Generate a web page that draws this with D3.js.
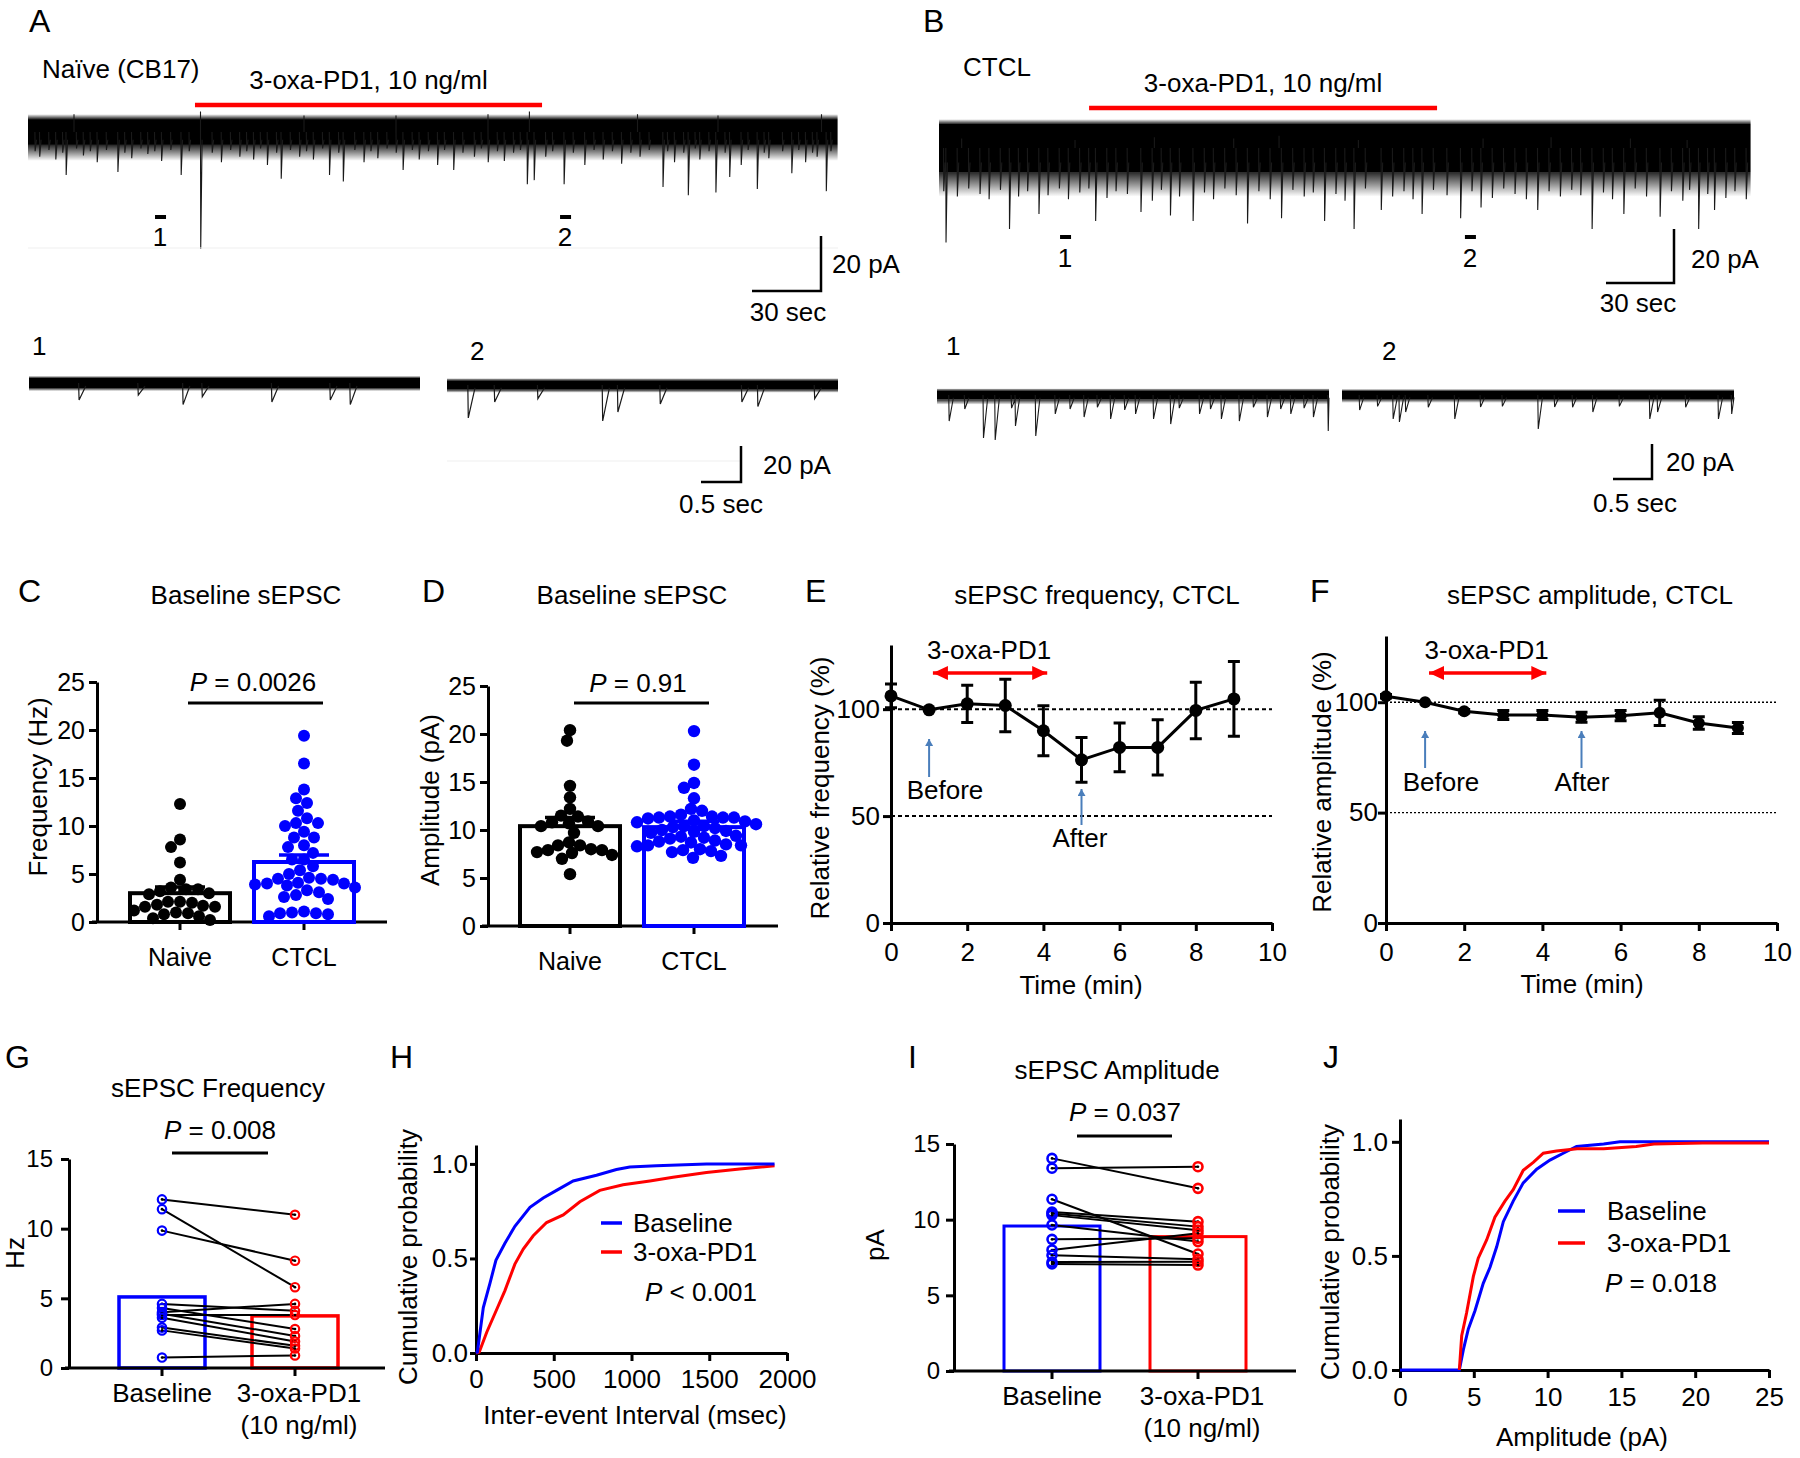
<!DOCTYPE html>
<html>
<head>
<meta charset="utf-8">
<script src="https://cdn.jsdelivr.net/npm/d3@7"></script>
<style>
  body { margin: 0; background: #fff; }
  svg text { font-family: "Liberation Sans", Arial, sans-serif; fill: #000; }
</style>
</head>
<body>
<div id="fig"></div>
<script>
// ---------------- data ----------------

// A / B: long recordings, events as [time (s), amplitude (pA)]
var aLongDur = 352, bLongDur = 358;
var aDrug = [72.6, 223.5], bDrug = [66.2, 219.7];
var aMarks = [57.4, 233.5], bMarks = [55.6, 234.2];

var aLongEvents = [
  [16.5, 15.6], [39, 14.5], [66.5, 15.6], [75, 42.5], [110, 17], [131, 15.6], [137, 18],
  [163, 13.8], [185, 13.8], [217, 19], [220, 17.5], [233, 19], [276, 20], [287, 23],
  [299, 22], [305, 16.4], [317, 20.7], [332, 15], [347, 21.5],
  [5, 9], [12, 10], [24, 8.5], [30, 11], [45, 9.5], [52, 8], [58, 10.5], [84, 11], [92, 9],
  [98, 10], [104, 12], [118, 9], [124, 10], [146, 11], [152, 9.5], [170, 10], [178, 12],
  [194, 9], [200, 11], [207, 10.5], [225, 9], [242, 12], [250, 10], [258, 11.5], [266, 9],
  [281, 11], [292, 10], [310, 12], [322, 9.5], [338, 11], [343, 9],
  [3, 7], [9, 6.5], [15, 7.5], [21, 6], [27, 7], [34, 6.5], [42, 7.5], [49, 6], [55, 7],
  [62, 6.5], [70, 7], [80, 7.5], [88, 6.5], [95, 7], [101, 6], [108, 7.5], [114, 6.5],
  [121, 7], [128, 6], [135, 7.5], [142, 6.5], [149, 7], [156, 6], [160, 7.5], [167, 6.5],
  [174, 7], [181, 6.5], [189, 7.5], [197, 6], [204, 7], [211, 7.5], [214, 6.5], [228, 7],
  [237, 7.5], [246, 6.5], [254, 7], [262, 7.5], [270, 6.5], [278, 7], [285, 7.5], [290, 6],
  [296, 7], [303, 7.5], [313, 6.5], [320, 7.5], [328, 7], [335, 6.5], [341, 7.5], [349, 7]
];
var aLongUps = [
  [20, 6.5], [75, 7.5], [120, 6], [160, 6], [200, 6.5], [218, 7.5], [265, 6.5], [300, 6], [345, 6.5]
];

var bLongEvents = [
  [3, 35], [31, 30], [44, 24.4], [69, 27], [89, 23.7], [102, 25], [112, 27], [136, 28],
  [151, 26], [170, 27], [183, 30], [195, 23], [213, 24.4], [230, 26], [239, 22], [264, 23],
  [288, 30], [302, 24.4], [318, 25.5], [335, 30], [342, 23], [356, 19],
  [2, 16], [8, 18], [13, 15], [18, 17], [22, 19], [27, 15.5], [35, 18], [39, 16], [48, 17.5],
  [53, 15], [57, 19], [62, 16.5], [66, 15], [74, 18.5], [78, 16], [83, 17], [94, 19.5],
  [98, 15.5], [106, 18], [117, 16.5], [121, 19], [126, 15], [131, 17.5], [141, 16],
  [146, 19], [156, 15.5], [161, 18], [165, 16.5], [175, 17], [179, 19.5], [188, 15],
  [200, 18], [205, 16], [209, 19], [218, 15.5], [224, 17.5], [235, 16], [244, 18.5],
  [249, 15], [254, 17], [259, 19], [269, 16], [274, 18], [279, 15.5], [283, 17.5],
  [293, 16.5], [297, 19], [307, 15], [312, 18], [323, 16], [328, 19.5], [331, 15.5],
  [339, 17], [347, 18.5], [351, 16]
];
var bLongUps = [
  [10, 3.5], [60, 3], [95, 4], [130, 3.5], [150, 4.5], [185, 3], [240, 3.5], [270, 4], [305, 3.5], [330, 3]
];

// A / B: expanded sweeps (1, 2)
var a1Events = [[0.62, 9.4], [1.36, 6.7], [1.92, 12], [2.16, 7.6], [3.03, 10.5], [3.76, 9.4], [4.01, 12]];
var a2Events = [[0.26, 18.3], [0.59, 9.4], [1.13, 7.6], [1.94, 20], [2.13, 15], [2.66, 10.5], [3.68, 9.4], [3.88, 12], [4.59, 7.6]];
var b1Events = [
  [0.15, 14.9], [0.59, 24.6], [0.74, 25.7], [1.0, 17.7], [1.26, 23.4], [1.51, 10.8], [1.88, 12.6],
  [2.22, 13.7], [2.54, 10.8], [2.77, 13.7], [2.99, 16.6], [3.36, 10.8], [3.64, 13.7], [3.87, 14.9],
  [4.23, 12.6], [4.53, 10.8], [4.82, 12.6], [5.01, 20.6],
  [0.35, 8], [0.95, 7.5], [1.7, 8], [2.05, 7], [2.4, 8.5], [3.1, 7.5], [3.5, 8], [4.05, 7], [4.4, 8], [4.7, 7.5]
];
var b2Events = [
  [0.22, 8.6], [0.65, 13.7], [0.73, 15.4], [0.81, 9.7], [1.44, 13.7], [1.77, 6.9], [2.51, 19.4],
  [2.72, 6.9], [3.21, 9.7], [3.94, 13.7], [4.04, 9.7], [4.82, 13.7], [4.99, 10.8],
  [0.45, 6.5], [1.1, 7], [2.05, 6.5], [2.95, 7], [3.55, 6.5], [4.4, 7]
];

// C / D: baseline sEPSC per cell
var groups = ["Naive", "CTCL"];
var groupColors = ["#000000", "#0000ff"];
var cNaive = [12.3, 8.6, 7.8, 6.2, 4.4, 3.6, 3.4, 3.4, 3.2, 3.0, 2.9, 2.1, 2.1, 2.0, 1.8, 1.7, 1.6, 1.6, 1.2, 1.0, 0.9, 0.8, 0.6, 0.4, 0.2];
var cCtcl = [19.4, 16.5, 13.8, 12.9, 12.4, 11.6, 10.8, 10.3, 10.3, 10.0, 9.4, 8.8, 8.8, 8.0, 7.8, 7.2, 6.5, 6.5,
  5.8, 5.4, 5.0, 4.6, 4.5, 4.5, 4.4, 4.1, 4.0, 4.0, 3.9, 3.8, 3.6, 3.3, 3.1, 2.8, 2.6, 2.4, 1.1, 1.0, 0.9, 0.9, 0.8, 0.6];
var cMeans = [3.0, 6.25], cSem = [0.65, 0.73];
var dNaive = [20.4, 19.3, 14.6, 13.4, 12.2, 11.5, 11.4, 10.9, 10.8, 10.7, 10.4, 10.4, 9.7, 8.7, 8.4, 8.4, 8.0, 7.9, 7.9, 7.7, 7.6, 7.4, 7.0, 5.4];
var dCtcl = [20.3, 16.8, 14.9, 14.4, 13.3, 12.2, 12.0, 11.6, 11.4, 11.4, 11.3, 11.3, 11.3, 11.2, 11.0, 10.9, 10.8, 10.6,
  10.4, 10.4, 10.3, 10.2, 10.0, 9.9, 9.8, 9.7, 9.4, 9.3, 9.2, 9.1, 8.9, 8.8, 8.7, 8.5, 8.4, 8.4, 8.3, 8.0, 7.9, 7.8, 7.7, 7.3, 7.1];
var dMeans = [10.4, 10.3], dSem = [0.9, 0.6];

// E / F: time course (min), relative values (%)
var timeMin = [0, 1, 2, 3, 4, 5, 6, 7, 8, 9];
var eMean = [106.2, 99.7, 102.5, 101.7, 89.9, 76.3, 82.1, 82.1, 99.4, 104.8];
var eSem = [5.6, 0, 8.7, 12.3, 11.7, 10.5, 11.4, 12.9, 13.2, 17.5];
var fMean = [102.7, 100, 95.9, 94.2, 94.2, 93.2, 93.9, 95.2, 90.6, 88.3];
var fSem = [0.8, 0, 0.8, 2.0, 2.0, 2.3, 2.3, 5.7, 2.8, 2.5];
var drugWindow = [1.1, 4.1];

// G / I: paired cells
var pairCats = ["Baseline", "3-oxa-PD1"];
var pairColors = ["#0000ff", "#ff0000"];
var gBase = [12.1, 11.4, 9.86, 4.6, 4.3, 4.0, 3.9, 3.8, 3.6, 2.9, 2.7, 0.75];
var gDrug = [11.0, 5.8, 7.7, 4.1, 2.8, 4.6, 2.3, 3.8, 1.9, 1.6, 1.4, 0.9];
var gMeans = [5.1, 3.74];
var iBase = [14.05, 13.4, 11.35, 10.5, 10.4, 10.3, 9.65, 8.7, 8.0, 7.65, 7.2, 7.07];
var iDrug = [12.07, 13.5, 7.73, 9.87, 9.54, 9.3, 8.55, 8.77, 9.1, 7.38, 7.22, 7.0];
var iMeans = [9.58, 8.88];

// H / J: cumulative distributions
var hBaseMs = [0, 9, 47, 90, 128, 186, 250, 347, 432, 518, 625, 775, 903, 989, 1160, 1482, 1920];
var hBaseP = [0, 0.005, 0.24, 0.37, 0.49, 0.58, 0.67, 0.77, 0.82, 0.86, 0.91, 0.94, 0.97, 0.984, 0.99, 1.0, 1.0];
var hDrugMs = [0, 21, 69, 133, 186, 250, 304, 368, 454, 561, 668, 796, 946, 1118, 1267, 1482, 1696, 1920];
var hDrugP = [0, 0.005, 0.11, 0.23, 0.33, 0.47, 0.55, 0.62, 0.69, 0.73, 0.80, 0.86, 0.89, 0.91, 0.93, 0.955, 0.973, 0.99];
var jBaseAmp = [0, 4.02, 4.29, 4.63, 5.08, 5.64, 6.1, 6.55, 7.0, 7.67, 8.35, 9.26, 10.16, 11.06, 11.96, 13.8, 14.9, 25];
var jBaseP = [0, 0, 0.088, 0.18, 0.26, 0.38, 0.45, 0.54, 0.65, 0.74, 0.82, 0.88, 0.92, 0.95, 0.98, 0.99, 1.0, 1.0];
var jDrugAmp = [4.02, 4.18, 4.51, 4.97, 5.3, 5.87, 6.43, 7.11, 7.67, 8.35, 9.03, 9.71, 10.6, 12, 13.8, 16, 17.2, 20.5, 25];
var jDrugP = [0, 0.15, 0.25, 0.41, 0.49, 0.57, 0.67, 0.74, 0.79, 0.875, 0.91, 0.95, 0.96, 0.97, 0.97, 0.98, 0.99, 0.995, 0.995];

// ---------------- drawing ----------------
var svg = d3.select("#fig").append("svg").attr("width", 1800).attr("height", 1458);
var defs = svg.append("defs");

function arrowHead(id, color, w, h) {
  defs.append("marker").attr("id", id)
    .attr("viewBox", "0 0 " + w + " " + h)
    .attr("refX", w).attr("refY", h / 2)
    .attr("markerWidth", w).attr("markerHeight", h)
    .attr("markerUnits", "userSpaceOnUse")
    .attr("orient", "auto-start-reverse")
    .append("path").attr("d", "M0,0L" + w + "," + (h / 2) + "L0," + h + "Z").attr("fill", color);
}
arrowHead("headRed", "#ff0000", 15, 14);
arrowHead("headBlue", "#4a7ebb", 7, 8);

// fading "noise" gradients for the trace edges
function fade(id, topOp, botOp) {
  var lg = defs.append("linearGradient").attr("id", id).attr("x1", 0).attr("x2", 0).attr("y1", 0).attr("y2", 1);
  lg.append("stop").attr("offset", "0%").attr("stop-color", "#000").attr("stop-opacity", topOp);
  lg.append("stop").attr("offset", "100%").attr("stop-color", "#000").attr("stop-opacity", botOp);
}
fade("fadeDown", 0.85, 0.0);
fade("fadeUp", 0.0, 0.85);

// text helper, (x, y) is the visual centre line
function label(x, y, s, o) {
  o = o || {};
  var t = svg.append("text").attr("x", x).attr("y", y).attr("dy", "0.35em")
    .attr("text-anchor", o.anchor || "middle")
    .attr("font-size", o.size || 26)
    .text(s);
  if (o.rot) t.attr("transform", "rotate(-90," + x + "," + y + ")");
  return t;
}
function pLabel(x, y, rest, anchor) {
  var t = svg.append("text").attr("x", x).attr("y", y).attr("dy", "0.35em")
    .attr("text-anchor", anchor || "middle").attr("font-size", 26);
  t.append("tspan").attr("font-style", "italic").text("P");
  t.append("tspan").text(rest);
}
function hline(x1, x2, y, w, color) {
  svg.append("line").attr("x1", x1).attr("x2", x2).attr("y1", y).attr("y2", y)
    .attr("stroke", color || "#000").attr("stroke-width", w || 2.5);
}
function styleAxis(sel, size) {
  sel.attr("font-family", null).attr("font-size", null);
  sel.selectAll("path, line").attr("stroke", "#000").attr("stroke-width", 3);
  sel.selectAll("text").attr("font-size", size || 25).attr("fill", "#000");
}

// panel letters
[["A", 29, 21], ["B", 923, 21], ["C", 18, 591], ["D", 422, 591], ["E", 805, 591], ["F", 1310, 591],
 ["G", 5, 1057], ["H", 390, 1057], ["I", 908, 1057], ["J", 1323, 1057]].forEach(function (p) {
  label(p[1], p[2], p[0], { anchor: "start", size: 32 });
});

// ----- A / B traces -----
function drawTrace(o) {
  var t = d3.scaleLinear().domain([0, o.dur]).range([o.x0, o.x0 + o.dur * o.pxS]);
  var a = d3.scaleLinear().domain([0, 20]).range([o.yc, o.yc + 20 * o.pxA]);
  var w = t(o.dur) - t(0);
  // noise fringe below and above the baseline band
  svg.append("rect").attr("x", t(0)).attr("y", a(o.band)).attr("width", w)
    .attr("height", a(o.hair) - a(o.band)).attr("fill", "url(#fadeDown)");
  svg.append("rect").attr("x", t(0)).attr("y", a(-o.band - o.top)).attr("width", w)
    .attr("height", a(-o.band) - a(-o.band - o.top)).attr("fill", "url(#fadeUp)");
  svg.append("rect").attr("x", t(0)).attr("y", a(-o.band))
    .attr("width", w).attr("height", a(o.band) - a(-o.band)).attr("fill", "#000");
  var d = "";
  o.events.forEach(function (e) {
    var end = Math.min(e[0] + o.decay, o.dur);
    d += "M" + t(e[0]) + "," + a(0) + "L" + t(e[0] + o.rise) + "," + a(e[1]) + "L" + t(end) + "," + a(o.band * 0.6);
  });
  (o.ups || []).forEach(function (e) {
    d += "M" + t(e[0]) + "," + a(0) + "L" + t(e[0]) + "," + a(-e[1]);
  });
  svg.append("path").attr("d", d).attr("fill", "none").attr("stroke", "#1a1a1a").attr("stroke-width", o.lw);
  return t;
}
function scaleBar(cx, cy, hLen, vLen, vText, hText, vx, vy, hx, hy) {
  svg.append("path").attr("d", "M" + (cx - hLen) + "," + cy + "H" + cx + "V" + (cy - vLen))
    .attr("fill", "none").attr("stroke", "#000").attr("stroke-width", 2.5);
  label(vx, vy, vText, { anchor: "start" });
  label(hx, hy, hText);
}

// A long trace
var aPxS = 2.3, aPxA = 2.75;
var tA = drawTrace({ x0: 28, dur: aLongDur, pxS: aPxS, yc: 132, pxA: aPxA, band: 4.7, hair: 10.5, top: 1.8,
  events: aLongEvents, ups: aLongUps, rise: 0.1, decay: 0.7, lw: 1.1 });
hline(28, 838, 248, 1, "#efefef");
hline(tA(aDrug[0]), tA(aDrug[1]), 105, 4.5, "#ff0000");
label((tA(aDrug[0]) + tA(aDrug[1])) / 2, 80, "3-oxa-PD1, 10 ng/ml");
label(42, 69, "Naïve (CB17)", { anchor: "start" });
aMarks.forEach(function (m, i) {
  svg.append("rect").attr("x", tA(m) - 5).attr("y", 215).attr("width", 11).attr("height", 4).attr("fill", "#000");
  label(tA(m), 237, String(i + 1));
});
scaleBar(821, 291, 30 * aPxS, 20 * aPxA, "20 pA", "30 sec", 832, 264, 788, 312);

// B long trace
var bPxS = 2.267, bPxA = 2.7;
var tB = drawTrace({ x0: 939, dur: bLongDur, pxS: bPxS, yc: 148, pxA: bPxA, band: 8.9, hair: 18, top: 1.8,
  events: bLongEvents, ups: bLongUps, rise: 0.1, decay: 0.7, lw: 1.1 });
hline(tB(bDrug[0]), tB(bDrug[1]), 108, 4.5, "#ff0000");
label((tB(bDrug[0]) + tB(bDrug[1])) / 2, 83, "3-oxa-PD1, 10 ng/ml");
label(963, 67, "CTCL", { anchor: "start" });
bMarks.forEach(function (m, i) {
  svg.append("rect").attr("x", tB(m) - 5).attr("y", 235).attr("width", 11).attr("height", 4).attr("fill", "#000");
  label(tB(m), 258, String(i + 1));
});
scaleBar(1674, 283, 30 * bPxS, 20 * bPxA, "20 pA", "30 sec", 1691, 259, 1638, 303);

// expanded sweeps
var sA = 80, sAa = 1.8, sB = 78, sBa = 1.75;
drawTrace({ x0: 29, dur: 391 / sA, pxS: sA, yc: 383, pxA: sAa, band: 2.8, hair: 4.5, top: 1.2,
  events: a1Events, rise: 0.006, decay: 0.09, lw: 1.2 });
drawTrace({ x0: 447, dur: 391 / sA, pxS: sA, yc: 385, pxA: sAa, band: 2.6, hair: 4.3, top: 1.2,
  events: a2Events, rise: 0.006, decay: 0.09, lw: 1.2 });
drawTrace({ x0: 937, dur: 392 / sB, pxS: sB, yc: 395, pxA: sBa, band: 2.6, hair: 5.5, top: 1.2,
  events: b1Events, rise: 0.006, decay: 0.06, lw: 1.1 });
drawTrace({ x0: 1342, dur: 392 / sB, pxS: sB, yc: 395, pxA: sBa, band: 2.3, hair: 4.5, top: 1.2,
  events: b2Events, rise: 0.006, decay: 0.06, lw: 1.1 });
hline(447, 741, 461, 1, "#efefef");
label(32, 346, "1", { anchor: "start" });
label(470, 351, "2", { anchor: "start" });
label(946, 346, "1", { anchor: "start" });
label(1382, 351, "2", { anchor: "start" });
scaleBar(741, 482, 0.5 * sA, 20 * sAa, "20 pA", "0.5 sec", 763, 465, 721, 504);
scaleBar(1652, 479, 0.5 * sB, 20 * sBa, "20 pA", "0.5 sec", 1666, 462, 1635, 503);

// ----- C / D scatter bars -----
function swarm(vals, y, r, minD) {
  var pts = vals.map(function (v) { return { v: v, y: y(v) }; }).sort(function (a, b) { return a.y - b.y; });
  var placed = [];
  pts.forEach(function (p) {
    for (var k = 0; k < 400; k++) {
      var off = (k % 2 ? -1 : 1) * Math.ceil(k / 2);
      var ok = placed.every(function (q) {
        var dx = q.dx - off, dy = q.y - p.y;
        return dx * dx + dy * dy >= minD * minD;
      });
      if (ok) { p.dx = off; break; }
    }
    placed.push(p);
  });
  return placed;
}
function dotBars(o) {
  var y = d3.scaleLinear().domain([0, 25]).range([o.y0, o.yTop]);
  var x = d3.scalePoint().domain(groups).range(o.ticks);
  var ax = svg.append("g").attr("transform", "translate(" + o.ax + ",0)")
    .call(d3.axisLeft(y).tickValues([0, 5, 10, 15, 20, 25]).tickSize(8).tickPadding(4).tickSizeOuter(0));
  styleAxis(ax, 25);
  hline(o.xl, o.xr, o.y0, 3);
  groups.forEach(function (grp, i) {
    var cx = x(grp), col = groupColors[i];
    svg.append("line").attr("x1", cx).attr("x2", cx).attr("y1", o.y0).attr("y2", o.y0 + 8)
      .attr("stroke", "#000").attr("stroke-width", 3);
    label(cx, o.y0 + 35, grp, { size: 25 });
    svg.append("rect").attr("x", cx - o.hw).attr("y", y(o.means[i]))
      .attr("width", 2 * o.hw).attr("height", y(0) - y(o.means[i]))
      .attr("fill", "none").attr("stroke", col).attr("stroke-width", 4);
    svg.append("path")
      .attr("d", "M" + cx + "," + y(o.means[i]) + "V" + y(o.means[i] + o.sem[i]) +
        "M" + (cx - 25) + "," + y(o.means[i] + o.sem[i]) + "H" + (cx + 25))
      .attr("stroke", col).attr("stroke-width", 3.5).attr("fill", "none");
    swarm(o.vals[i], y, o.r, o.minD).forEach(function (p) {
      svg.append("circle").attr("cx", cx + p.dx).attr("cy", p.y).attr("r", o.r).attr("fill", col);
    });
  });
  hline(o.pl[0], o.pl[1], o.pl[2], 3);
}
dotBars({ y0: 922, yTop: 682, ax: 97, xl: 92, xr: 387, ticks: [180, 304], hw: 50, r: 6, minD: 11.2,
  vals: [cNaive, cCtcl], means: cMeans, sem: cSem, pl: [188, 323, 703] });
label(246, 595, "Baseline sEPSC");
pLabel(253, 682, " = 0.0026");
label(38, 787, "Frequency (Hz)", { rot: true });

dotBars({ y0: 926, yTop: 686, ax: 488, xl: 482, xr: 778, ticks: [570, 694], hw: 50, r: 6.2, minD: 10.8,
  vals: [dNaive, dCtcl], means: dMeans, sem: dSem, pl: [574, 709, 703] });
label(632, 595, "Baseline sEPSC");
pLabel(638, 683, " = 0.91");
label(430, 800, "Amplitude (pA)", { rot: true });

// ----- E / F time courses -----
function timeCourse(o) {
  var x = d3.scaleLinear().domain([0, 10]).range([o.x0, o.x1]);
  var y = d3.scaleLinear().domain([0, 130]).range([o.y0, o.yTop]);
  [50, 100].forEach(function (v) {
    svg.append("line").attr("x1", x(0)).attr("x2", x(10)).attr("y1", y(v)).attr("y2", y(v))
      .attr("stroke", "#000").attr("stroke-width", o.dotW).attr("stroke-dasharray", o.dash);
  });
  var gx = svg.append("g").attr("transform", "translate(0," + o.y0 + ")")
    .call(d3.axisBottom(x).tickValues([0, 2, 4, 6, 8, 10]).tickSize(8).tickPadding(12).tickSizeOuter(0));
  styleAxis(gx, 26);
  var gy = svg.append("g").attr("transform", "translate(" + o.x0 + ",0)")
    .call(d3.axisLeft(y).tickValues([0, 50, 100]).tickSize(8).tickPadding(o.pad).tickSizeOuter(0));
  styleAxis(gy, 26);
  svg.append("path").datum(timeMin)
    .attr("d", d3.line().x(function (t) { return x(t); }).y(function (t, i) { return y(o.mean[i]); }))
    .attr("fill", "none").attr("stroke", "#000").attr("stroke-width", 3);
  timeMin.forEach(function (t, i) {
    if (o.sem[i] > 0) {
      var hi = y(o.mean[i] + o.sem[i]), lo = y(o.mean[i] - o.sem[i]);
      svg.append("path").attr("d", "M" + x(t) + "," + hi + "V" + lo +
          "M" + (x(t) - 6) + "," + hi + "H" + (x(t) + 6) + "M" + (x(t) - 6) + "," + lo + "H" + (x(t) + 6))
        .attr("stroke", "#000").attr("stroke-width", 3).attr("fill", "none");
    }
    svg.append("circle").attr("cx", x(t)).attr("cy", y(o.mean[i])).attr("r", o.r).attr("fill", "#000");
  });
  // drug application arrow
  svg.append("line").attr("x1", x(drugWindow[0])).attr("x2", x(drugWindow[1])).attr("y1", 673).attr("y2", 673)
    .attr("stroke", "#ff0000").attr("stroke-width", 3.5)
    .attr("marker-start", "url(#headRed)").attr("marker-end", "url(#headRed)");
  label(x((drugWindow[0] + drugWindow[1]) / 2) - 1, 650, "3-oxa-PD1");
  // before / after markers
  [[1, o.before], [5, o.after]].forEach(function (m) {
    svg.append("line").attr("x1", x(m[0])).attr("x2", x(m[0])).attr("y1", m[1][0]).attr("y2", m[1][1])
      .attr("stroke", "#4a7ebb").attr("stroke-width", 2).attr("marker-end", "url(#headBlue)");
  });
  return x;
}
var xE = timeCourse({ x0: 891, x1: 1272, y0: 923, yTop: 645, mean: eMean, sem: eSem, r: 6.5,
  dash: "4,3", dotW: 2, pad: 3, before: [777, 739], after: [825, 789] });
label(945, 790, "Before");
label(1080, 838, "After");
label(1097, 595, "sEPSC frequency, CTCL");
label(820, 788, "Relative frequency (%)", { rot: true });
label(1081, 985, "Time (min)");

var xF = timeCourse({ x0: 1386, x1: 1777, y0: 923, yTop: 636, mean: fMean, sem: fSem, r: 6,
  dash: "2,2", dotW: 1.3, pad: 0, before: [768, 731], after: [768, 731] });
label(1441, 782, "Before");
label(1582, 782, "After");
label(1590, 595, "sEPSC amplitude, CTCL");
label(1322, 782, "Relative amplitude (%)", { rot: true });
label(1582, 984, "Time (min)");

// ----- G / I paired plots -----
function pairedPlot(o) {
  var y = d3.scaleLinear().domain([0, 15]).range([o.y0, o.yTop]);
  var x = d3.scalePoint().domain(pairCats).range(o.ticks);
  var gy = svg.append("g").attr("transform", "translate(" + o.ax + ",0)")
    .call(d3.axisLeft(y).tickValues([0, 5, 10, 15]).tickSize(8).tickPadding(o.pad).tickSizeOuter(0));
  styleAxis(gy, 24);
  pairCats.forEach(function (c, i) {
    var cx = x(c);
    svg.append("rect").attr("x", cx - o.hw).attr("y", y(o.means[i]))
      .attr("width", 2 * o.hw).attr("height", y(0) - y(o.means[i]))
      .attr("fill", "none").attr("stroke", pairColors[i]).attr("stroke-width", o.bw);
  });
  hline(o.xl, o.xr, o.y0, 3);
  pairCats.forEach(function (c) {
    svg.append("line").attr("x1", x(c)).attr("x2", x(c)).attr("y1", o.y0).attr("y2", o.y0 + 8)
      .attr("stroke", "#000").attr("stroke-width", 3);
  });
  o.base.forEach(function (v, i) {
    svg.append("line").attr("x1", x(pairCats[0])).attr("x2", x(pairCats[1]))
      .attr("y1", y(v)).attr("y2", y(o.drug[i])).attr("stroke", "#000").attr("stroke-width", 2);
  });
  [o.base, o.drug].forEach(function (vals, j) {
    vals.forEach(function (v) {
      svg.append("circle").attr("cx", x(pairCats[j])).attr("cy", y(v)).attr("r", o.r)
        .attr("fill", "none").attr("stroke", pairColors[j]).attr("stroke-width", o.cw);
      svg.append("circle").attr("cx", x(pairCats[j])).attr("cy", y(v)).attr("r", 1.3).attr("fill", "#000");
    });
  });
  hline(o.pl[0], o.pl[1], o.pl[2], 3);
  label(x(pairCats[0]), o.y0 + 25, "Baseline");
  label(x(pairCats[1]) + 4, o.y0 + 25, "3-oxa-PD1");
  label(x(pairCats[1]) + 4, o.y0 + 57, "(10 ng/ml)");
}
pairedPlot({ y0: 1368, yTop: 1159, ax: 69, xl: 65, xr: 385, ticks: [162, 295], hw: 43, bw: 3.5,
  base: gBase, drug: gDrug, means: gMeans, r: 4.2, cw: 2.2, pad: 8, pl: [172, 268, 1153] });
label(218, 1088, "sEPSC Frequency");
pLabel(220, 1130, " = 0.008");
label(15, 1253, "Hz", { rot: true });

pairedPlot({ y0: 1371, yTop: 1144, ax: 954, xl: 949, xr: 1296, ticks: [1052, 1198], hw: 48, bw: 3,
  base: iBase, drug: iDrug, means: iMeans, r: 4.5, cw: 2.6, pad: 6, pl: [1077, 1172, 1136] });
label(1117, 1070, "sEPSC Amplitude");
pLabel(1125, 1112, " = 0.037");
label(875, 1245, "pA", { rot: true });

// ----- H / J cumulative probability -----
function cumPlot(o) {
  var x = d3.scaleLinear().domain([0, o.xMax]).range([o.x0, o.x1]);
  var y = d3.scaleLinear().domain([0, 1.1]).range([o.y0, o.yTop]);
  var gx = svg.append("g").attr("transform", "translate(0," + o.y0 + ")")
    .call(d3.axisBottom(x).tickValues(o.xTicks).tickFormat(d3.format("d"))
      .tickSize(8).tickPadding(o.xPad).tickSizeOuter(0));
  styleAxis(gx, 26);
  var gy = svg.append("g").attr("transform", "translate(" + o.x0 + ",0)")
    .call(d3.axisLeft(y).tickValues([0, 0.5, 1]).tickFormat(d3.format(".1f"))
      .tickSize(o.yTick).tickPadding(o.yPad).tickSizeOuter(0));
  styleAxis(gy, 26);
  o.curves.forEach(function (c) {
    svg.append("path").datum(c.xs)
      .attr("d", d3.line().x(function (v) { return x(v); }).y(function (v, i) { return y(c.ps[i]); }))
      .attr("fill", "none").attr("stroke", c.color).attr("stroke-width", 3);
  });
  o.legend.forEach(function (l) {
    hline(l[0], l[1], l[2], 3.5, l[4]);
    label(l[1] + o.gap, l[2], l[3], { anchor: "start" });
  });
}
cumPlot({ x0: 476, x1: 787, y0: 1353, yTop: 1145, xMax: 2000, xTicks: [0, 500, 1000, 1500, 2000],
  xPad: 9, yTick: 6, yPad: 2,
  curves: [{ xs: hDrugMs, ps: hDrugP, color: "#ff0000" }, { xs: hBaseMs, ps: hBaseP, color: "#0000ff" }],
  legend: [[601, 622, 1223, "Baseline", "#0000ff"], [601, 622, 1252, "3-oxa-PD1", "#ff0000"]], gap: 11 });
pLabel(645, 1292, " < 0.001", "start");
label(408, 1257, "Cumulative probability", { rot: true });
label(635, 1415, "Inter-event Interval (msec)");

cumPlot({ x0: 1400, x1: 1769, y0: 1370, yTop: 1119, xMax: 25, xTicks: [0, 5, 10, 15, 20, 25],
  xPad: 10, yTick: 8, yPad: 4,
  curves: [{ xs: jBaseAmp, ps: jBaseP, color: "#0000ff" }, { xs: jDrugAmp, ps: jDrugP, color: "#ff0000" }],
  legend: [[1558, 1585, 1211, "Baseline", "#0000ff"], [1558, 1585, 1243, "3-oxa-PD1", "#ff0000"]], gap: 22 });
pLabel(1605, 1283, " = 0.018", "start");
label(1330, 1252, "Cumulative probability", { rot: true });
label(1582, 1437, "Amplitude (pA)");
</script>
</body>
</html>
